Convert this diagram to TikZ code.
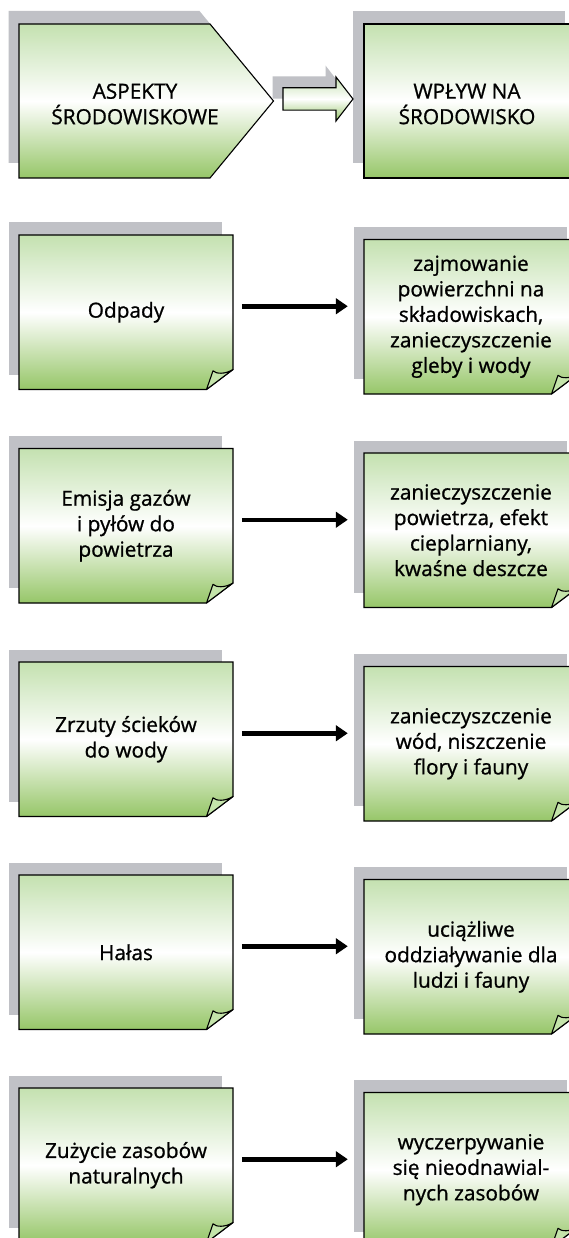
\documentclass[tikz,border=0pt]{standalone}
\usepackage{fontspec}
\setmainfont[FakeBold=0.9]{Open Sans}
\usetikzlibrary{arrows.meta}
\definecolor{gtop}{RGB}{196,225,176}
\definecolor{gbot}{RGB}{150,198,104}
\definecolor{shgray}{RGB}{192,193,198}
\definecolor{flapc}{RGB}{196,228,170}
\tikzset{
  boxshade/.style={top color=gtop, bottom color=gbot, middle color=white, draw=black, line width=1.1pt, line join=miter},
  plainshade/.style={top color=gtop, bottom color=gbot, middle color=white},
  outline/.style={draw=black, line width=1.1pt, line join=miter},
  shadowfill/.style={fill=shgray},
  flapstyle/.style={fill=flapc, draw=black, line width=1.1pt, line join=round},
  txtfont/.style={font=\fontsize{20.8}{25.5}\selectfont, text=black},
  boxtext/.style={txtfont, align=center, inner sep=0pt, minimum width=214pt, minimum height=154.5pt},
  toptext/.style={txtfont, align=center, inner sep=0pt},
  conn/.style={line width=4.5pt, -{Triangle[length=12pt,width=15.5pt]}, shorten >=16pt},
}
\newcommand{\notebox}[2]{%
  \fill[shadowfill] ({#1-10.5},{#2-12.5}) rectangle ({#1+202.5},{#2+139.5});
  \path[boxshade] (#1,#2) -- ({#1+214},#2) -- ({#1+214},{#2+134.5}) -- ({#1+187.5},{#2+154.5}) -- (#1,{#2+154.5}) -- cycle;
  \path[flapstyle] ({#1+187.5},{#2+154.5}) -- ({#1+194},{#2+135.8}) .. controls ({#1+197},{#2+139}) and ({#1+206},{#2+139.5}) .. ({#1+214},{#2+134.5}) -- cycle;
}
\begin{document}
\begin{tikzpicture}[x=1pt,y=-1pt]
\useasboundingbox (0,0) rectangle (569,1238);
\clip (0,0) rectangle (569,1238);
\fill[white] (0,0) rectangle (569,1238);

% top row
\fill[shadowfill] (8.5,11) -- (199.5,11) -- (263,88) -- (200,163) -- (8.5,163) -- cycle;
\path[boxshade] (19,24) -- (210,24) -- (273.5,101) -- (210,178) -- (19,178) -- cycle;
\fill[shadowfill] (353,11) rectangle (565,163);
\shade[plainshade] (364,24) rectangle (571,178);
\draw[outline] (571,24) -- (364,24) -- (364,178) -- (571,178);
\fill[shadowfill] (272.5,76.3) -- (325.5,76.3) -- (325.5,65.5) -- (342.5,87.5) -- (325.5,109.5) -- (325.5,98.7) -- (272.5,98.7) -- cycle;
\path[boxshade] (283,87.8) -- (336,87.8) -- (336,77) -- (353,99) -- (336,121) -- (336,110.2) -- (283,110.2) -- cycle;
\node[toptext] (asp) at (135,104) {ASPEKTY\\ŚRODOWISKOWE};
\node[toptext] (wpl) at (467,104) {WPŁYW NA\\ŚRODOWISKO};

% row 2
\notebox{19}{235}
\notebox{364}{239.5}
\node[boxtext] (l2) at (126,312.25) {Odpady};
\node[boxtext] (r2) at (471,316.75) {zajmowanie\\powierzchni na\\składowiskach,\\zanieczyszczenie\\gleby i wody};
\coordinate (s2) at ([xshift=8.7pt,yshift=6pt]l2.east);
\draw[conn] (s2) -- (s2 -| r2.west);

% row 3
\notebox{19}{448.5}
\notebox{364}{453}
\node[boxtext] (l3) at (126,525.75) {Emisja gazów\\i pyłów do\\powietrza};
\node[boxtext] (r3) at (471,530.25) {zanieczyszczenie\\powietrza, efekt\\cieplarniany,\\kwaśne deszcze};
\coordinate (s3) at ([xshift=8.7pt,yshift=6pt]l3.east);
\draw[conn] (s3) -- (s3 -| r3.west);

% row 4
\notebox{19}{662}
\notebox{364}{666.5}
\node[boxtext] (l4) at (126,739.25) {Zrzuty ścieków\\do wody};
\node[boxtext] (r4) at (471,743.75) {zanieczyszczenie\\wód, niszczenie\\flory i fauny};
\coordinate (s4) at ([xshift=8.7pt,yshift=6pt]l4.east);
\draw[conn] (s4) -- (s4 -| r4.west);

% row 5
\notebox{19}{875}
\notebox{364}{879.5}
\node[boxtext] (l5) at (126,952.25) {Hałas};
\node[boxtext] (r5) at (471,956.75) {uciążliwe\\oddziaływanie dla\\ludzi i fauny};
\coordinate (s5) at ([xshift=8.7pt,yshift=6pt]l5.east);
\draw[conn] (s5) -- (s5 -| r5.west);

% row 6
\notebox{19}{1088}
\notebox{364}{1092.5}
\node[boxtext] (l6) at (126,1165.25) {Zużycie zasobów\\naturalnych};
\node[boxtext] (r6) at (471,1169.75) {wyczerpywanie\\się nieodnawial-\\nych zasobów};
\coordinate (s6) at ([xshift=8.7pt,yshift=6pt]l6.east);
\draw[conn] (s6) -- (s6 -| r6.west);
\end{tikzpicture}
\end{document}
